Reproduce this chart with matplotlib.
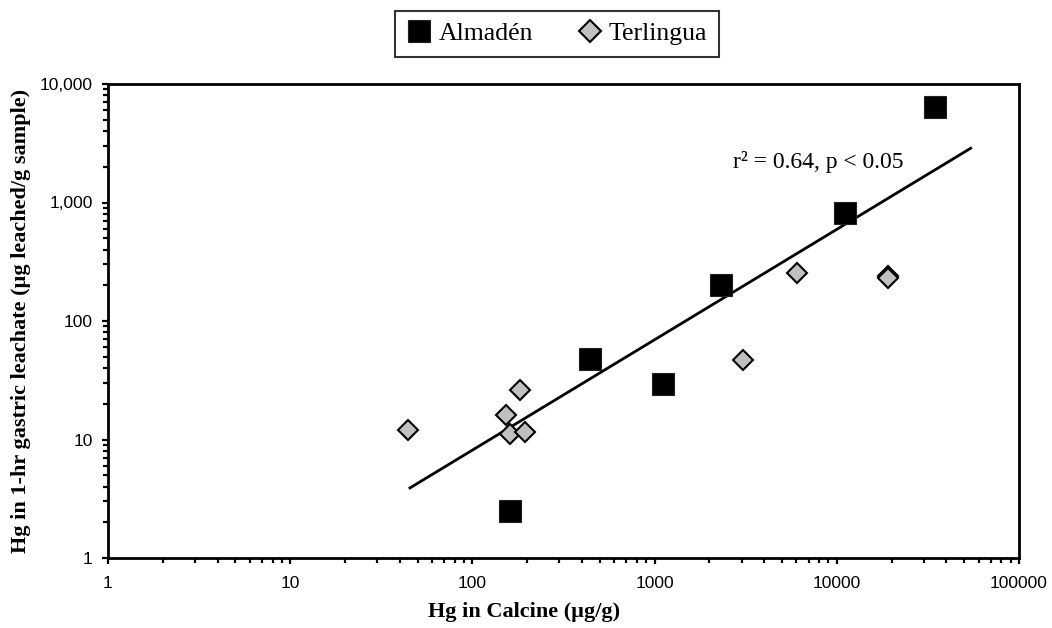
import matplotlib
matplotlib.use("Agg")
import matplotlib.pyplot as plt
from matplotlib.ticker import FixedLocator, FuncFormatter, LogLocator, NullFormatter

# Hg in calcine (ug/g) vs Hg in 1-hr gastric leachate (ug leached/g sample)
almaden_x = [34600, 11100, 2310, 442, 1110, 161]
almaden_y = [6400, 815, 201, 47.8, 29.4, 2.49]

terlingua_x = [44.2, 153, 183, 161, 194, 3050, 6030, 19000, 19200]
terlingua_y = [12.0, 16.1, 26.2, 11.1, 11.6, 46.9, 253, 240, 229]

# regression line end points
fit_x = [45.4, 54300]
fit_y = [3.9, 2870]

x_ticks = [1, 10, 100, 1000, 10000, 100000]
y_ticks = [1, 10, 100, 1000, 10000]

serif = ["Liberation Serif", "DejaVu Serif"]
sans = ["Liberation Sans", "DejaVu Sans"]

fig = plt.figure(figsize=(10.52, 6.28), dpi=100)
ax = fig.add_axes([108 / 1052, 1 - 558 / 628, 911 / 1052, 474 / 628])

ax.plot(fit_x, fit_y, color="black", lw=2.0, zorder=2)
ax.plot(almaden_x, almaden_y, ls="none", marker="s", ms=15.5,
        mfc="black", mec="#222222", mew=0.8, label="Almadén", zorder=3)
ax.plot(terlingua_x, terlingua_y, ls="none", marker="D", ms=10.5,
        mfc="#c0c0c0", mec="black", mew=1.5, label="Terlingua", zorder=4)

ax.set_xscale("log")
ax.set_yscale("log")
ax.set_xlim(1, 100000)
ax.set_ylim(1, 10000)

ax.xaxis.set_major_locator(FixedLocator(x_ticks))
ax.yaxis.set_major_locator(FixedLocator(y_ticks))
ax.xaxis.set_minor_locator(LogLocator(base=10, subs=range(2, 10), numticks=20))
ax.yaxis.set_minor_locator(LogLocator(base=10, subs=range(2, 10), numticks=20))
ax.xaxis.set_minor_formatter(NullFormatter())
ax.yaxis.set_minor_formatter(NullFormatter())
ax.xaxis.set_major_formatter(FuncFormatter(lambda v, p: f"{v:.0f}"))
ax.yaxis.set_major_formatter(FuncFormatter(lambda v, p: f"{v:,.0f}"))

for side in ["top", "right", "left", "bottom"]:
    ax.spines[side].set_linewidth(2.0)
    ax.spines[side].set_color("black")

ax.tick_params(which="both", direction="out", width=1.6, color="black",
               top=False, right=False)
ax.tick_params(which="major", length=4)
ax.tick_params(which="minor", length=3.5)
ax.tick_params(axis="x", which="major", pad=9)
ax.tick_params(axis="y", which="major", pad=7)
for lab in ax.get_xticklabels() + ax.get_yticklabels():
    lab.set_family(sans)
    lab.set_fontsize(12.5)

ax.set_xlabel("Hg in Calcine (µg/g)", family=serif, fontweight="bold",
              fontsize=16)
ax.xaxis.set_label_coords(0.4566, -0.093)
ax.set_ylabel("Hg in 1-hr gastric leachate (µg leached/g sample)",
              family=serif, fontweight="bold", fontsize=16)
ax.yaxis.set_label_coords(-0.084, 0.5)

ax.text(2700, 2200, "r² = 0.64, p < 0.05", family=serif, fontsize=17,
        ha="left", va="center")

leg = fig.legend(loc="center", bbox_to_anchor=(557 / 1052, 1 - 34 / 628),
                 ncol=2, frameon=True, fancybox=False, shadow=False,
                 prop={"family": serif, "size": 18.5}, handletextpad=0.25,
                 columnspacing=1.7, borderpad=0.45, handlelength=1.0,
                 markerscale=1.05)
leg.get_frame().set_edgecolor("black")
leg.get_frame().set_linewidth(1.5)

fig.savefig("out.png", dpi=100)
